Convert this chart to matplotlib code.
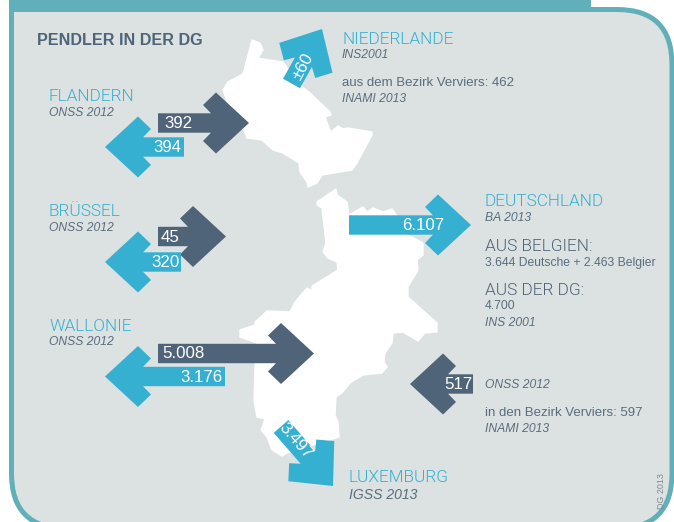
# Pendler in der DG - commuter arrows over the map outline
import numpy as np
import matplotlib
matplotlib.use('Agg')
import matplotlib.pyplot as plt
from matplotlib.patches import FancyBboxPatch, Polygon, Rectangle
#==============================================================

dark = '#4f6478'
body = '#5a6d7e'
cyan = '#36b0d1'
teal = '#60b0b9'
grey = '#dce1e1'
plt.rcParams['font.family'] = ['Liberation Sans', 'DejaVu Sans']

# flows, kept as the printed labels
regions = ['FLANDERN', 'BRÜSSEL', 'WALLONIE']
sources = ['ONSS 2012', 'ONSS 2012', 'ONSS 2012']
outgoing = ['392', '45', '5.008']
incoming = ['394', '320', '3.176']
netherlands = '±60'
germany = '6.107'
from_germany = '517'
luxembourg = '3.497'

# map outline in pixels
north_map = [(252,40),(260,43),(263,50),(258,58),(263,59),(283,62),(300,85),(310,93),(330,112),
             (331,115),(325,117),(329,128),(331,132),(338,126),(343,129),(348,128),(372,132),
             (372,135),(357,163),(352,170),(322,175),(317,183),(308,187),(307,182),(300,172),
             (299,163),(283,153),(273,150),(262,140),(247,138),(245,132),(233,117),(223,90),
             (228,82),(243,74)]
south_map = [(317,202),(336,189),(337,195),(347,202),(349,215),(363,207),(367,212),(373,208),
             (383,212),(392,209),(395,213),(408,235),(423,243),(423,255),(417,260),(418,270),
             (408,287),(408,297),(437,323),(437,332),(425,333),(418,341),(403,332),(393,333),
             (392,343),(385,353),(384,362),(387,367),(382,373),(363,375),(350,383),(342,393),
             (336,397),(335,415),(338,422),(339,437),(287,453),(282,456),(272,450),(267,437),
             (261,430),(265,419),(257,417),(254,400),(255,367),(257,343),(240,337),(240,330),
             (255,325),(255,322),(267,311),(290,312),(295,302),(307,288),(312,291),(312,286),
             (338,270),(337,262),(328,258),(323,252),(326,243),(322,208),(317,205)]


def arrow(ax, tail, tip, color):
    tail = np.array(tail, dtype=float)
    tip = np.array(tip, dtype=float)
    d = (tip - tail)/np.hypot(*(tip - tail))
    n = np.array([-d[1], d[0]])
    # (back from the tip, off the axis)
    pts = [(0, 0), (33, 30.5), (46, 18), (38, 9.7), (None, 9.7), (None, -9.7), (38, -9.7), (46, -18), (33, -30.5)]
    length = np.hypot(*(tip - tail))
    out = []
    for b, s in pts:
        if b is None:
            b = length
        out.append(tip - b*d + s*n)
    ax.add_patch(Polygon(out, closed=True, fc=color, ec='none', zorder=3))


def label(ax, x, y, s, size=10, color=body, **kw):
    kw.setdefault('va', 'baseline')
    ax.text(x, y, s, fontsize=size, color=color, zorder=5, **kw)


fig = plt.figure(figsize=(6.74, 5.22), dpi=100)
ax = fig.add_axes([0, 0, 1, 1])
ax.set_xlim(0, 674)
ax.set_ylim(522, 0)
ax.axis('off')

# panel with the teal border and the heavy top band, top left corner is square
r = 55
ax.add_patch(FancyBboxPatch((11.5+r, 9.5+r), 660.5-2*r, 519-2*r, boxstyle='round,pad=%d,rounding_size=%d'%(r, r),
                            fc=grey, ec=teal, lw=3.6, zorder=1))
ax.add_patch(Rectangle((14, 11), 80, 80, fc=grey, ec='none', zorder=1.5))
ax.add_patch(Rectangle((9, 0), 5, 90, fc=teal, ec='none', zorder=2))
ax.add_patch(Rectangle((9, 0), 582, 12, fc=teal, ec='none', zorder=2))

ax.add_patch(Polygon(north_map, closed=True, fc='white', ec='white', lw=1, joinstyle='round', zorder=2))
ax.add_patch(Polygon(south_map, closed=True, fc='white', ec='white', lw=1, joinstyle='round', zorder=2))

# left side arrows
arrow(ax, (158, 123), (249, 123), dark)
arrow(ax, (184, 147), (105, 147), cyan)
arrow(ax, (158, 236.5), (226, 236.5), dark)
arrow(ax, (181, 262), (105, 262), cyan)
arrow(ax, (158, 353.5), (314, 353.5), dark)
arrow(ax, (225, 376.5), (105, 376.5), cyan)

arrow(ax, (349, 225), (471, 225), cyan)
arrow(ax, (473, 384), (410, 384), dark)
arrow(ax, (291.5, 83.5), (322, 29), cyan)
arrow(ax, (281, 426.5), (333, 486), cyan)

vsize = 12.2
label(ax, 164, 128, outgoing[0], vsize, 'white')
label(ax, 153, 152, incoming[0], vsize, 'white')
label(ax, 161, 242, outgoing[1], vsize, 'white')
label(ax, 151, 267, incoming[1], vsize, 'white')
label(ax, 162, 358, outgoing[2], vsize, 'white')
label(ax, 180, 382, incoming[2], vsize, 'white')
label(ax, 402, 230, germany, vsize, 'white')
label(ax, 444, 389, from_germany, vsize, 'white')
label(ax, 303, 67, netherlands, vsize, 'white', ha='center', va='center', rotation=62, rotation_mode='anchor')
label(ax, 296, 441, luxembourg, vsize, 'white', ha='center', va='center', rotation=-49, rotation_mode='anchor')

label(ax, 37, 45, 'PENDLER IN DER DG', 11.6, dark, fontweight='bold')

hsize = 12.4
hkw = dict(family='Roboto', fontweight=300)
ssize = 8.7
for nm, src, y1, y2 in zip(regions, sources, [101, 216, 331], [116, 231, 345]):
    label(ax, 49, y1, nm, hsize, cyan, **hkw)
    label(ax, 49, y2, src, ssize, body, style='italic')

label(ax, 342, 44, 'NIEDERLANDE', hsize, cyan, **hkw)
label(ax, 342, 58, 'INS2001', ssize, body, style='italic')
label(ax, 342, 86.5, 'aus dem Bezirk Verviers: 462', 9.5)
label(ax, 342, 102, 'INAMI 2013', ssize, body, style='italic')

label(ax, 485, 206, 'DEUTSCHLAND', hsize, cyan, **hkw)
label(ax, 485, 221, 'BA 2013', ssize, body, style='italic')
label(ax, 485, 251, 'AUS BELGIEN:', hsize, dark, **hkw)
label(ax, 485, 266, '3.644 Deutsche + 2.463 Belgier', 8.7)
label(ax, 485, 295, 'AUS DER DG:', hsize, dark, **hkw)
label(ax, 485, 309, '4.700', 8.7)
label(ax, 485, 326, 'INS 2001', ssize, body, style='italic')

label(ax, 485, 388, 'ONSS 2012', ssize, body, style='italic')
label(ax, 485, 416.5, 'in den Bezirk Verviers: 597', 9.5)
label(ax, 485, 432, 'INAMI 2013', ssize, body, style='italic')

label(ax, 349, 482, 'LUXEMBURG', hsize, cyan, **hkw)
label(ax, 349, 499, 'IGSS 2013', 10.1, body, style='italic')

label(ax, 662, 491, 'DG 2013', 6.4, '#7d8a93', rotation=90, ha='center', va='center')

fig.savefig('out.png', dpi=100)
